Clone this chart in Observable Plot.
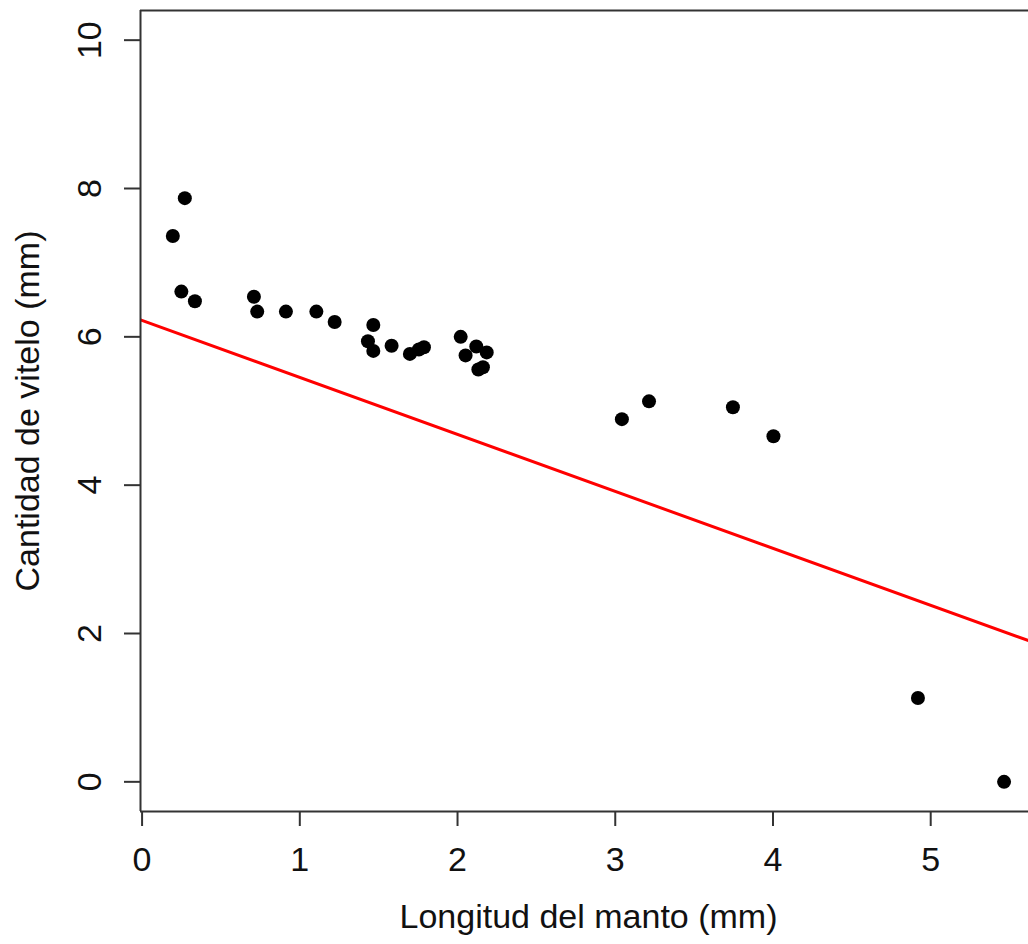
<!DOCTYPE html>
<html>
<head>
<meta charset="utf-8">
<script src="https://cdn.jsdelivr.net/npm/d3@7"></script>
<script src="https://cdn.jsdelivr.net/npm/@observablehq/plot@0.6"></script>
<style>
  html, body { margin: 0; padding: 0; background: #fff; overflow: hidden; }
  #chart svg { display: block; }
</style>
</head>
<body>
<div id="chart"></div>
<script>
// Longitud del manto (mm)
const mantle = [0.195, 0.271, 0.249, 0.335, 0.709, 0.730, 0.912, 1.105, 1.221, 1.466,
                1.432, 1.466, 1.582, 1.698, 1.755, 1.787, 2.020, 2.051, 2.119, 2.185,
                2.132, 2.161, 3.042, 3.214, 3.746, 4.003, 4.919, 5.465];
// Cantidad de vitelo (mm)
const yolk = [7.36, 7.87, 6.61, 6.48, 6.54, 6.34, 6.34, 6.34, 6.20, 6.16,
              5.94, 5.81, 5.88, 5.77, 5.83, 5.86, 6.00, 5.75, 5.87, 5.79,
              5.56, 5.59, 4.89, 5.13, 5.05, 4.66, 1.13, 0.00];
// Reference line (abline)
const lineIntercept = 6.22;
const lineSlope = -0.768;

const xTicks = [0, 1, 2, 3, 4, 5];
const yTicks = [0, 2, 4, 6, 8, 10];
const xTitle = "Longitud del manto (mm)";
const yTitle = "Cantidad de vitelo (mm)";

const xDomain = [-0.01, 5.62];
const yDomain = [-0.4, 10.4];

const points = mantle.map((m, i) => ({x: m, y: yolk[i]}));
const lineData = xDomain.map(x => ({x, y: lineIntercept + lineSlope * x}));

const axisColor = "#333";
const fs = 34;

const chart = Plot.plot({
  width: 1028,
  height: 944,
  marginLeft: 140,
  marginRight: 0,
  marginTop: 10,
  marginBottom: 133,
  style: {fontFamily: "'Liberation Sans', Arial, sans-serif", color: "#111", background: "#fff"},
  x: {domain: xDomain, axis: null},
  y: {domain: yDomain, axis: null},
  marks: [
    Plot.line(lineData, {x: "x", y: "y", stroke: "#ff0000", strokeWidth: 3, clip: true}),
    Plot.dot(points, {x: "x", y: "y", r: 7, fill: "#000", stroke: "none"}),
    // box (left, top, bottom)
    Plot.ruleX([xDomain[0]], {stroke: axisColor, strokeWidth: 2}),
    Plot.ruleY([yDomain[0], yDomain[1]], {stroke: axisColor, strokeWidth: 2}),
    // x axis ticks + labels
    Plot.axisX({ticks: xTicks, tickSize: 15, tickPadding: 20, fontSize: fs, stroke: axisColor, strokeWidth: 2, label: null, tickFormat: d => String(d)}),
    // y axis ticks
    Plot.axisY({ticks: yTicks, tickSize: 16, stroke: axisColor, strokeWidth: 2, label: null, tickFormat: () => ""}),
    // y tick labels (rotated, R style)
    Plot.text(yTicks, {y: d => d, text: d => String(d), frameAnchor: "left", dx: -50, rotate: -90, fontSize: fs, textAnchor: "middle", lineAnchor: "middle", fill: "#111"}),
    // axis titles
    Plot.text([xTitle], {text: d => d, frameAnchor: "bottom", dy: 106, dx: 4, fontSize: fs, textAnchor: "middle", lineAnchor: "middle", fill: "#111"}),
    Plot.text([yTitle], {text: d => d, frameAnchor: "left", dx: -112, rotate: -90, fontSize: fs, textAnchor: "middle", lineAnchor: "middle", fill: "#111"})
  ]
});
document.getElementById("chart").appendChild(chart);
</script>
</body>
</html>
